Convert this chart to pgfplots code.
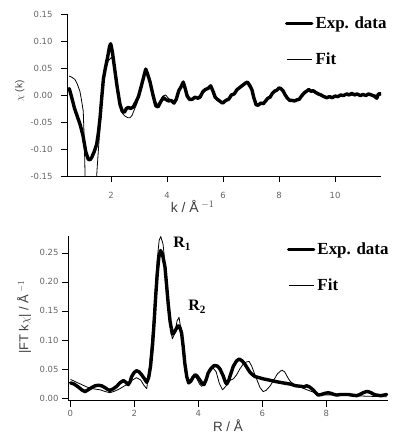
\documentclass[border=0pt]{standalone}
\usepackage{pgfplots}
\pgfplotsset{compat=1.18}
\usepackage{fontspec}
\setmainfont{Liberation Serif}
\setsansfont{Liberation Sans}
\newfontfamily\tickfont{DejaVu Sans}

\pgfplotsset{myaxis/.style={
  scale only axis,
  axis x line*=bottom, axis y line*=left,
  axis line style={-, black, line width=0.6pt},
  tick align=outside,
  major tick length=6bp,
  tick style={black, line width=0.6pt},
  every tick label/.append style={font=\tickfont\fontsize{8.5}{9}\selectfont, text=black!60},
  /pgf/number format/assume math mode=true,
  legend style={draw=none, fill=none, font=\bfseries\fontsize{17}{18}\selectfont, row sep=18bp, inner sep=0pt, cells={anchor=west}},
  legend image code/.code={\draw[#1] (0bp,0bp) -- (20bp,0bp); \path (0bp,0bp) -- (25bp,0bp);},
  exp/.style={black, line width=3.4bp, line join=round, line cap=round},
  fit/.style={black, line width=0.8bp, line join=round},
  label style={font=\sffamily, text=black!75},
}}

\begin{document}
\begin{tikzpicture}
\useasboundingbox (0,0) rectangle (394bp,-435bp);

\begin{axis}[myaxis, at={(67bp,-14bp)}, anchor=north west,
  width=314bp, height=162bp,
  xmin=0.43, xmax=11.64, ymin=-0.15, ymax=0.15,
  xtick={2,4,6,8,10},
  ytick={-0.15,-0.10,-0.05,0,0.05,0.10,0.15},
  yticklabel style={xshift=-5bp, /pgf/number format/.cd, fixed, fixed zerofill, precision=2},
  xticklabel style={yshift=-7bp},
  ylabel={$\chi$ (k)},
  ylabel style={at={(axis description cs:-0.15,0.525)}, anchor=center, font=\sffamily\fontsize{10}{11}\selectfont},
  xlabel={k / Å\,$^{-1}$},
  xlabel style={at={(axis description cs:0.40,-0.19)}, anchor=center, font=\sffamily\fontsize{14}{15}\selectfont},
  legend style={at={(axis description cs:0.694,0.994)}, anchor=north west},
]
\addplot[exp] coordinates {
(0.51,0.012)(0.6,-0.005)(0.7,-0.025)(0.8,-0.04)(0.9,-0.055)(1.0,-0.075)(1.1,-0.105)(1.19,-0.119)(1.25,-0.12)(1.31,-0.116)
(1.4,-0.105)(1.49,-0.091)(1.55,-0.07)(1.61,-0.042)(1.67,-0.005)(1.73,0.03)(1.8,0.05)(1.88,0.07)(1.95,0.09)(1.99,0.095)
(2.05,0.08)(2.14,0.045)(2.22,0.015)(2.32,-0.017)(2.4,-0.03)(2.48,-0.032)(2.55,-0.025)(2.62,-0.023)(2.7,-0.025)(2.8,-0.022)
(2.9,-0.012)(2.98,-0.003)(3.06,0.012)(3.15,0.03)(3.24,0.048)(3.3,0.04)(3.39,0.025)(3.5,0.0)(3.6,-0.02)(3.68,-0.022)
(3.78,-0.012)(3.87,-0.005)(3.95,-0.008)(4.05,-0.011)(4.15,-0.01)(4.25,-0.015)(4.33,-0.008)(4.42,0.008)(4.5,0.015)(4.58,0.024)
(4.65,0.012)(4.72,-0.002)(4.8,-0.008)(4.9,-0.008)(5.0,-0.004)(5.1,-0.006)(5.18,-0.004)(5.28,0.006)(5.36,0.01)(5.46,0.012)
(5.56,0.017)(5.65,0.006)(5.72,-0.004)(5.8,-0.008)(5.9,-0.012)(5.99,-0.015)(6.1,-0.01)(6.2,-0.008)(6.3,0.0)(6.4,0.002)
(6.5,0.01)(6.6,0.014)(6.7,0.018)(6.8,0.022)(6.87,0.024)(6.95,0.018)(7.03,0.01)(7.1,-0.005)(7.18,-0.018)(7.25,-0.019)
(7.35,-0.015)(7.44,-0.016)(7.52,-0.011)(7.6,-0.006)(7.68,-0.004)(7.76,0.003)(7.84,0.007)(7.92,0.009)(8.0,0.013)(8.06,0.012)
(8.14,0.008)(8.22,0.0)(8.3,-0.006)(8.38,-0.01)(8.46,-0.01)(8.55,-0.011)(8.64,-0.009)(8.72,-0.008)(8.8,-0.002)(8.9,0.004)
(8.98,0.007)(9.06,0.01)(9.14,0.007)(9.22,0.008)(9.3,0.005)(9.4,0.002)(9.5,0.0)(9.6,-0.003)(9.7,-0.005)(9.8,-0.003)
(9.9,-0.005)(10.0,-0.002)(10.1,-0.003)(10.2,0.0)(10.3,-0.001)(10.42,0.002)(10.5,0.0)(10.6,0.003)(10.7,0.0)(10.78,0.002)
(10.9,-0.001)(11.0,0.001)(11.1,-0.001)(11.2,0.002)(11.3,0.0)(11.4,-0.002)(11.49,-0.006)(11.55,0.002)(11.64,0.002)
};
\addlegendentry{Exp. data}
\addplot[fit] coordinates {
(0.51,0.035)(0.6,0.033)(0.71,0.029)(0.8,0.02)(0.89,0.007)(0.95,-0.01)(1.01,-0.03)(1.05,-0.09)(1.08,-0.16)(1.15,-0.25)
(1.3,-0.28)(1.45,-0.2)(1.5,-0.14)(1.56,-0.095)(1.61,-0.06)(1.67,-0.015)(1.73,0.025)(1.8,0.045)(1.9,0.063)(2.02,0.07)
(2.1,0.058)(2.2,0.035)(2.32,-0.02)(2.42,-0.035)(2.5,-0.039)(2.6,-0.042)(2.68,-0.042)(2.75,-0.038)(2.85,-0.025)(2.92,-0.017)
(3.0,0.0)(3.1,0.02)(3.24,0.045)(3.32,0.04)(3.45,0.015)(3.55,-0.01)(3.65,-0.018)(3.75,-0.012)(3.85,-0.002)(3.95,0.0)
(4.05,-0.006)(4.2,-0.012)(4.32,-0.006)(4.45,0.01)(4.58,0.022)(4.7,0.005)(4.82,-0.007)(4.95,-0.006)(5.1,-0.004)(5.25,0.004)
(5.4,0.011)(5.56,0.016)(5.7,0.0)(5.85,-0.01)(6.0,-0.013)(6.2,-0.007)(6.4,0.004)(6.6,0.015)(6.85,0.022)(7.03,0.008)
(7.18,-0.016)(7.4,-0.015)(7.6,-0.006)(7.85,0.008)(8.05,0.011)(8.3,-0.006)(8.5,-0.01)(8.75,-0.007)(9.0,0.006)(9.1,0.008)
(9.4,0.001)(9.8,-0.004)(10.2,-0.001)(10.8,0.0)(11.64,0.0)
};
\addlegendentry{Fit}
\end{axis}

\begin{axis}[myaxis, at={(68bp,-236bp)}, anchor=north west,
  width=320bp, height=164.7bp,
  xmin=-0.07, xmax=9.93, ymin=-0.0047, ymax=0.279,
  xtick={0,2,4,6,8},
  ytick={0,0.05,0.10,0.15,0.20,0.25},
  yticklabel style={/pgf/number format/.cd, fixed, fixed zerofill, precision=2},
  ylabel={|FT k$\chi$| / Å\,$^{-1}$},
  ylabel style={at={(axis description cs:-0.1375,0.508)}, anchor=center, font=\sffamily\fontsize{13}{14}\selectfont},
  xlabel={R / Å},
  xlabel style={at={(axis description cs:0.5,-0.152)}, anchor=center, font=\sffamily\fontsize{13.5}{14}\selectfont},
  legend style={at={(axis description cs:0.684,0.97)}, anchor=north west},
]
\addplot[exp] coordinates {
(0.01,0.026)(0.12,0.024)(0.25,0.019)(0.36,0.014)(0.46,0.011)(0.56,0.014)(0.67,0.018)(0.78,0.021)(0.875,0.022)(0.98,0.021)
(1.08,0.018)(1.16,0.015)(1.24,0.013)(1.35,0.016)(1.45,0.02)(1.55,0.026)(1.66,0.03)(1.74,0.027)(1.81,0.023)(1.87,0.028)
(1.92,0.037)(2.0,0.044)(2.07,0.047)(2.15,0.045)(2.23,0.04)(2.32,0.033)(2.39,0.027)(2.45,0.035)(2.51,0.055)(2.57,0.09)
(2.62,0.13)(2.67,0.175)(2.72,0.215)(2.77,0.243)(2.82,0.254)(2.88,0.248)(2.96,0.226)(3.01,0.195)(3.06,0.163)(3.12,0.132)
(3.19,0.11)(3.25,0.113)(3.3,0.118)(3.36,0.124)(3.41,0.124)(3.48,0.112)(3.53,0.088)(3.58,0.06)(3.64,0.037)(3.7,0.026)
(3.77,0.029)(3.83,0.035)(3.9,0.04)(3.96,0.038)(4.05,0.031)(4.12,0.025)(4.18,0.023)(4.25,0.032)(4.31,0.043)(4.4,0.051)
(4.5,0.056)(4.6,0.055)(4.68,0.05)(4.78,0.038)(4.85,0.027)(4.89,0.024)(4.95,0.03)(5.02,0.042)(5.1,0.055)(5.2,0.064)
(5.28,0.067)(5.37,0.064)(5.46,0.058)(5.55,0.05)(5.62,0.044)(5.7,0.04)(5.77,0.037)(5.9,0.035)(6.03,0.033)(6.2,0.031)
(6.45,0.028)(6.65,0.026)(6.87,0.024)(7.05,0.021)(7.23,0.02)(7.3,0.019)(7.39,0.021)(7.48,0.019)(7.59,0.014)(7.67,0.009)
(7.75,0.005)(7.85,0.006)(7.95,0.008)(8.06,0.009)(8.15,0.008)(8.25,0.006)(8.33,0.005)(8.45,0.006)(8.55,0.006)(8.69,0.006)
(8.8,0.005)(8.95,0.004)(9.05,0.006)(9.15,0.009)(9.25,0.011)(9.31,0.011)(9.4,0.009)(9.5,0.006)(9.57,0.005)(9.7,0.004)
(9.8,0.005)(9.89,0.006)
};
\addlegendentry{Exp. data}
\addplot[fit] coordinates {
(0.01,0.032)(0.2,0.027)(0.4,0.022)(0.51,0.019)(0.7,0.016)(0.94,0.014)(1.1,0.011)(1.24,0.009)(1.4,0.012)(1.55,0.016)
(1.7,0.021)(1.85,0.025)(1.95,0.031)(2.07,0.035)(2.2,0.031)(2.3,0.022)(2.39,0.016)(2.47,0.05)(2.53,0.09)(2.58,0.12)
(2.65,0.18)(2.72,0.24)(2.78,0.272)(2.83,0.278)(2.9,0.265)(2.96,0.232)(3.03,0.18)(3.1,0.13)(3.19,0.102)(3.26,0.11)
(3.34,0.133)(3.4,0.139)(3.46,0.118)(3.53,0.083)(3.6,0.05)(3.67,0.031)(3.74,0.03)(3.82,0.037)(3.88,0.039)(3.96,0.033)
(4.04,0.024)(4.11,0.02)(4.2,0.027)(4.33,0.044)(4.46,0.052)(4.56,0.045)(4.66,0.025)(4.76,0.014)(4.86,0.02)(4.98,0.03)
(5.1,0.033)(5.2,0.04)(5.3,0.05)(5.4,0.058)(5.5,0.062)(5.59,0.063)(5.67,0.055)(5.75,0.043)(5.83,0.032)(5.93,0.018)
(6.03,0.011)(6.12,0.013)(6.25,0.021)(6.35,0.03)(6.48,0.042)(6.61,0.048)(6.7,0.045)(6.8,0.035)(6.87,0.029)(7.0,0.023)
(7.19,0.019)(7.4,0.014)(7.6,0.01)(7.8,0.006)(7.92,0.005)(8.3,0.005)(8.74,0.004)(9.3,0.003)(9.89,0.002)
};
\addlegendentry{Fit}
\node[font=\bfseries\fontsize{16}{16}\selectfont] at (axis cs:3.5,0.266) {R\textsubscript{1}};
\node[font=\bfseries\fontsize{16}{16}\selectfont] at (axis cs:3.97,0.157) {R\textsubscript{2}};
\end{axis}
\end{tikzpicture}
\end{document}
